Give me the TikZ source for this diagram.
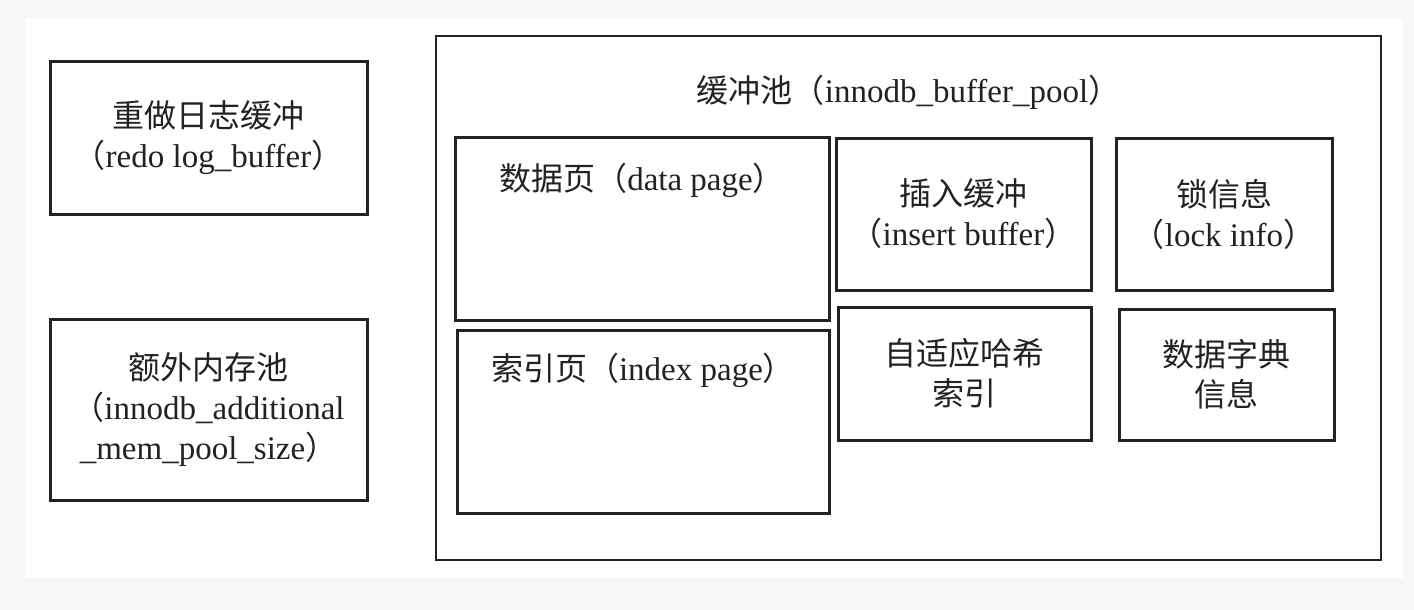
\documentclass[tikz,border=0pt]{standalone}
\usepackage{fontspec}
\setmainfont{Liberation Serif}
\newfontfamily\cjk{Noto Sans CJK SC}
\newcommand{\zh}[1]{{\cjk\fontsize{32}{40}\selectfont #1}}
\definecolor{bgray}{HTML}{F6F7F9}
\definecolor{ink}{HTML}{222222}
\begin{document}
\begin{tikzpicture}[x=1pt,y=-1pt,
  txt/.style={font=\fontsize{33}{40}\selectfont, align=center, text=ink, inner sep=0pt},
  box/.style={draw=ink, line width=3pt, inner sep=0pt, txt},
  pool/.style={draw=ink, line width=2pt, inner sep=0pt}]
\fill[bgray] (0,0) rectangle (1414,610);
\fill[white] (26,18) rectangle (1403,578);
\useasboundingbox (0,0) rectangle (1414,610);

% left column
\node[box, minimum width=317pt, minimum height=152pt] (redo) at (208.5,138)
  {\zh{重做日志缓冲}\\\zh{（}redo log\_buffer\zh{）}};
\node[box, minimum width=317pt, minimum height=181pt] (extra) at (208.5,409.5)
  {\zh{额外内存池}\\\zh{（}innodb\_additional\\\_mem\_pool\_size\zh{）}};

% buffer pool
\node[pool, minimum width=945pt, minimum height=524pt] (pool) at (908.5,298) {};
\node[txt] (pooltitle) at (908.5,92) {\zh{缓冲池（}innodb\_buffer\_pool\zh{）}};

\node[box, minimum width=374pt, minimum height=183pt] (data) at (642,228.5) {};
\node[txt] (datalabel) at ([yshift=-45pt]data.north) {\zh{数据页（}data page\zh{）}};
\node[box, minimum width=372pt, minimum height=183pt] (index) at (643,421.5) {};
\node[txt] (indexlabel) at ([yshift=-42pt]index.north) {\zh{索引页（}index page\zh{）}};

\node[box, minimum width=255pt, minimum height=152pt] (insert) at (963.5,214)
  {\zh{插入缓冲}\\\zh{（}insert buffer\zh{）}};
\node[box, minimum width=216pt, minimum height=152pt] (lock) at (1224,214)
  {\zh{锁信息}\\\zh{（}lock info\zh{）}};
\node[box, minimum width=253pt, minimum height=133pt] (hash) at (964.5,373.5)
  {\zh{自适应哈希}\\\zh{索引}};
\node[box, minimum width=215pt, minimum height=131pt] (dict) at (1226.5,374.5)
  {\zh{数据字典}\\\zh{信息}};
\end{tikzpicture}
\end{document}
